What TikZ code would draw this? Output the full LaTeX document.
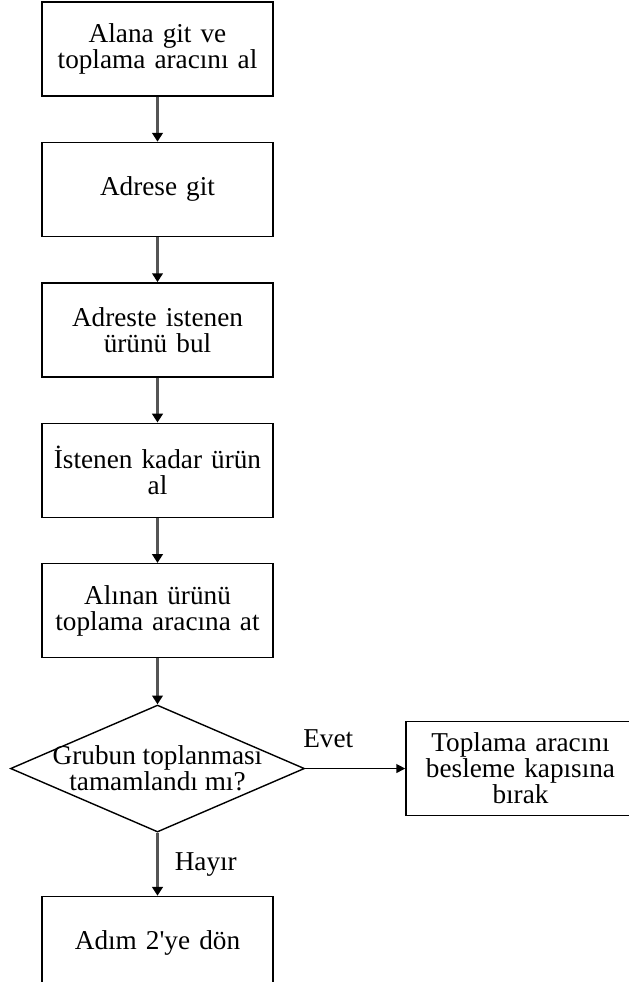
\documentclass[tikz,border=0pt]{standalone}
\usepackage{fontspec}
\setmainfont{Liberation Serif}
\usepackage{xcolor}
\definecolor{lndark}{RGB}{85, 85, 85}
\usepackage{tikz}
\usetikzlibrary{shapes.geometric, arrows.meta, positioning}

\newcommand{\boxfont}{\fontsize{15.5}{14.8}\selectfont}

\begin{document}
\begin{tikzpicture}[
        node distance=0.9cm,
        auto,
        process/.style={
            rectangle,
            draw=black,
            thick,
            fill=white,
            minimum width=4.62cm,
            minimum height=1.88cm,
            text width=4.35cm,
            align=center,
            font=\boxfont
        },
        decision/.style={
            diamond,
            draw=black,
            thick,
            inner sep=0pt,
            minimum width=5.88cm,
            minimum height=2.54cm
        },
        label/.style={align=center, font=\boxfont, text=black},
        arrow/.style={-{Triangle[length=5pt,width=6pt,color=black]}, line width=1.6pt, color=lndark},
        sidearrow/.style={-{Triangle[length=5pt,width=5pt]}, line width=0.8pt, color=black}
    ]
        \useasboundingbox (0,0) rectangle (12.56,-19.64);

        \node[process] (area) at (3.15,-0.98) {Alana git ve\\ toplama aracını al};
        \node[process, below=of area] (addr) {Adrese git};
        \node[process, below=of addr] (find) {Adreste istenen\\ ürünü bul};
        \node[process, below=of find] (take) {İstenen kadar ürün\\ al};
        \node[process, below=of take] (drop) {Alınan ürünü\\ toplama aracına at};
        \node[decision, below=0.92cm of drop] (done) {};
        \node[label] (donetext) at (done) {Grubun toplanması\\ tamamlandı mı?};
        \node[process, right=2cm of done, minimum width=4.42cm] (feed) {Toplama aracını\\ besleme kapısına\\ bırak};
        \node[process, below=1.26cm of done] (back) {Adım 2\textquotesingle ye dön};

        \draw[arrow] (area) -- (addr);
        \draw[arrow] (addr) -- (find);
        \draw[arrow] (find) -- (take);
        \draw[arrow] (take) -- (drop);
        \draw[arrow] (drop) -- (done);
        \draw[sidearrow] (done) -- node[pos=0.23, above=0.28cm, label] (yes) {Evet} (feed);
        \draw[arrow] (done) -- node[midway, right=0.2cm, label] (no) {Hayır} (back);

    \end{tikzpicture}
\end{document}
